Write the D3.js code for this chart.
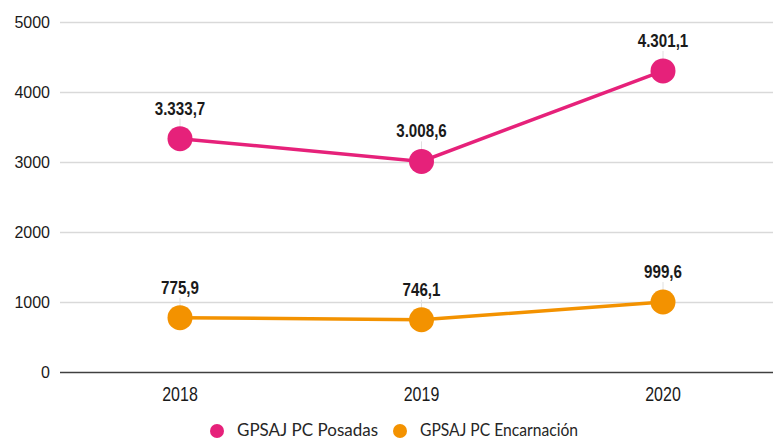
<!DOCTYPE html>
<html><head><meta charset="utf-8">
<script src="https://cdn.jsdelivr.net/npm/d3@7"></script>
<style>body{margin:0;background:#fff}</style>
</head><body>
<script>
const years = ["2018","2019","2020"];
const posadas = [3333.7, 3008.6, 4301.1];
const encarnacion = [775.9, 746.1, 999.6];
const posadasLabels = ["3.333,7","3.008,6","4.301,1"];
const encarnacionLabels = ["775,9","746,1","999,6"];
const yTicks = [0,1000,2000,3000,4000,5000];
const seriesNames = ["GPSAJ PC Posadas","GPSAJ PC Encarnación"];
const colors = ["#e6217a","#f39200"];

const W=773,H=440;
const svg=d3.select("body").append("svg").attr("width",W).attr("height",H);
const x=d3.scalePoint().domain(years).range([180,663]);
const y=d3.scaleLinear().domain([0,5000]).range([372,22]);
const sans="'Liberation Sans',Arial,sans-serif";
const SX=0.82; // condensed look

// grid
svg.append("g").selectAll("line").data(yTicks).join("line")
  .attr("x1",60).attr("x2",W).attr("y1",d=>Math.round(y(d))+0.5).attr("y2",d=>Math.round(y(d))+0.5)
  .attr("stroke",d=>d===0?"#404040":"#d9d9d9").attr("stroke-width",1.3);
svg.append("g").selectAll("text").data(yTicks).join("text")
  .attr("x",50).attr("y",d=>y(d)+5.5).attr("text-anchor","end")
  .attr("font-family",sans).attr("font-size",16).attr("fill","#1a1a1a")
  .text(d=>d);
svg.append("g").selectAll("text").data(years).join("text")
  .attr("transform",d=>`translate(${x(d)},401) scale(${SX},1)`).attr("text-anchor","middle")
  .attr("font-family",sans).attr("font-size",19.5).attr("fill","#1a1a1a").text(d=>d);

const series=[{vals:posadas,labels:posadasLabels,c:colors[0]},{vals:encarnacion,labels:encarnacionLabels,c:colors[1]}];
series.forEach(s=>{
  const pts=years.map((yr,i)=>({x:x(yr),y:y(s.vals[i]),l:s.labels[i]}));
  const g=svg.append("g");
  g.selectAll("line.lead").data(pts).join("line").attr("class","lead")
    .attr("x1",d=>d.x).attr("x2",d=>d.x).attr("y1",d=>d.y-20).attr("y2",d=>d.y-12)
    .attr("stroke","#e0e0e0").attr("stroke-width",1);
  g.append("path").datum(pts).attr("d",d3.line().x(d=>d.x).y(d=>d.y))
    .attr("fill","none").attr("stroke",s.c).attr("stroke-width",3.5);
  g.selectAll("circle").data(pts).join("circle").attr("cx",d=>d.x).attr("cy",d=>d.y).attr("r",12.5).attr("fill",s.c);
  g.selectAll("text").data(pts).join("text")
    .attr("transform",d=>`translate(${d.x},${d.y-24}) scale(${SX},1)`)
    .attr("text-anchor","middle").attr("font-family",sans).attr("font-weight","bold")
    .attr("font-size",18.5).attr("fill","#1a1a1a").text(d=>d.l);
});

// legend
const leg=[{x:217,tx:237,w:141},{x:400,tx:420,w:158}];
seriesNames.forEach((n,i)=>{
  svg.append("circle").attr("cx",leg[i].x).attr("cy",431).attr("r",7).attr("fill",colors[i]);
  svg.append("text").attr("x",leg[i].tx).attr("y",436).attr("font-family","Lato,'Open Sans',sans-serif")
    .attr("font-size",16.5).attr("fill","#262626")
    .attr("textLength",leg[i].w).attr("lengthAdjust","spacingAndGlyphs").text(n);
});
</script>
</body></html>
